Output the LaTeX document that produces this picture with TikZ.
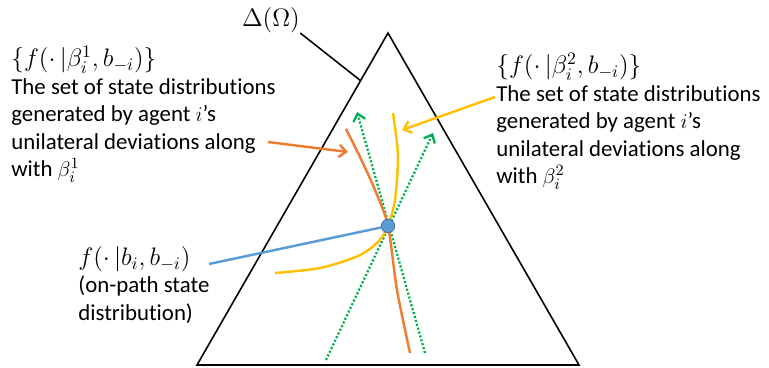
\documentclass[tikz,border=0pt]{standalone}
\usepackage{fontspec}
\setmainfont{Carlito}[Ligatures=NoCommon]
\usetikzlibrary{arrows.meta}
\definecolor{devorange}{RGB}{237,125,49}
\definecolor{devyellow}{RGB}{255,192,0}
\definecolor{devgreen}{RGB}{0,176,80}
\definecolor{pathblue}{RGB}{91,155,213}
\newcommand{\fml}[1]{{\fontsize{14.5}{15.6}\selectfont$#1$}}
\begin{document}
\begin{tikzpicture}[x=0.02cm,y=-0.02cm, >={Straight Barb[length=4pt,width=7pt]},
  lbl/.style={inner sep=0pt, align=left, anchor=north west, font=\fontsize{13}{15.6}\selectfont},
  curve/.style={line width=1.4pt},
  dev/.style={devgreen, line width=1.3pt, dash pattern=on 1.2pt off 1.1pt, ->}]
\useasboundingbox (0,0) rectangle (769,368);
% simplex
\coordinate (t) at (388,33);
\coordinate (l) at (197,365);
\coordinate (r) at (579,365);
\draw[line width=0.9pt] (t) -- (l) -- (r) -- cycle;
\node[inner sep=0pt] (d) at (271,20) {\fml{\Delta(\Omega)}};
\coordinate (e) at (361,81);
\draw[line width=0.9pt] (d.south east) -- (e);
% deviation directions
\coordinate (g1) at (326,360);
\coordinate (g2) at (433,133);
\coordinate (g3) at (425,353);
\coordinate (g4) at (357,112);
\draw[dev] (g1) -- (g2);
\draw[dev] (g3) -- (g4);
% sets of state distributions
\draw[curve, devorange] plot[smooth] coordinates {(346,129) (360,157) (375,190) (388,226) (397,290) (410,353)};
\draw[curve, devyellow] plot[smooth] coordinates {(275,273) (320,268) (358,256) (378,242) (388,226) (395,200) (398,160) (396,135) (393,113)};
\node[circle, fill=pathblue, draw=pathblue!70!black, minimum size=0.27cm, inner sep=0pt] (dot) at (388,226) {};
% labels
\node[lbl] (a) at (11,46) {\fml{\{f(\cdot\,|\beta_i^1,b_{-i})\}}\\The set of state distributions\\generated by agent $i$’s\\unilateral deviations along\\with $\beta_i^1$};
\node[lbl] (b) at (496,53) {\fml{\{f(\cdot\,|\beta_i^2,b_{-i})\}}\\The set of state distributions\\generated by agent $i$’s\\unilateral deviations along\\with $\beta_i^2$};
\node[lbl] (c) at (78,246) {\fml{f(\cdot\,|b_i,b_{-i})}\\(on-path state\\distribution)};
\coordinate (a1) at (268,142);
\coordinate (a2) at (348,152);
\draw[curve, devorange, ->] (a1) -- (a2);
\coordinate (b1) at (495,97);
\coordinate (b2) at (402,130);
\draw[curve, devyellow, ->] (b1) -- (b2);
\coordinate (c1) at (209,264);
\draw[curve, pathblue] (c1) -- (dot);
\end{tikzpicture}
\end{document}
